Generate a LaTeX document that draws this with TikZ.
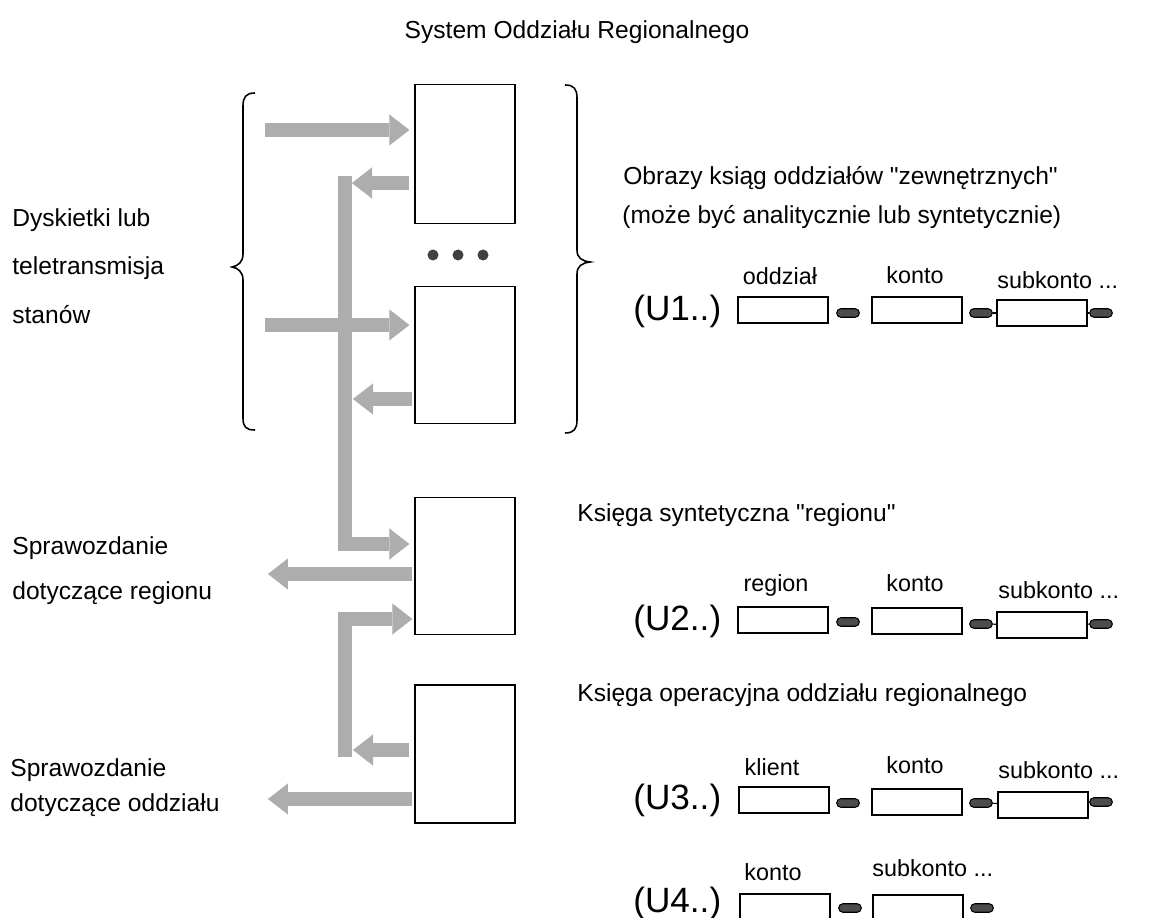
\documentclass[tikz,border=0pt]{standalone}
\usepackage{fontspec}
\setmainfont{Liberation Sans}
\newfontfamily\plainq{Liberation Sans}
\usetikzlibrary{arrows.meta}
\begin{document}
\begin{tikzpicture}[x=0.02cm,y=-0.02cm,
 bigbox/.style={draw,line width=0.8pt,minimum width=2cm,minimum height=2.76cm,inner sep=0pt},
 field/.style={draw,line width=1.3pt,minimum width=1.8cm,minimum height=0.52cm,inner sep=0pt},
 pill/.style={draw,line width=0.6pt,fill=black!70,rounded corners=0.08cm,minimum width=0.45cm,minimum height=0.17cm,inner sep=0pt},
 fat/.style={draw=black!32,line width=0.28cm,line join=miter,-{Triangle[width=0.62cm,length=0.4cm,line width=0.1pt]}},
 txt/.style={font=\fontsize{14}{17}\selectfont,anchor=west,inner sep=0pt},
 lab/.style={font=\fontsize{13.3}{16}\selectfont,inner sep=0pt},
 big/.style={font=\fontsize{20}{24}\selectfont,anchor=west,inner sep=0pt},
 brace/.style={draw,line width=0.9pt},
 dot/.style={circle,fill=black!75,minimum size=0.22cm,inner sep=0pt}]
\useasboundingbox (0,0) rectangle (1149,918);

% title
\node[txt,anchor=center] (title) at (577,32) {System Oddziału Regionalnego};

% big boxes
\node[bigbox,minimum height=2.78cm] (b1) at (465,154) {};
\node[bigbox,minimum height=2.74cm] (b2) at (465,355) {};
\node[bigbox,minimum height=2.74cm] (b3) at (465,566) {};
\node[bigbox,minimum height=2.76cm] (b4) at (465,754) {};
\node[dot] (d1) at (433,255) {};
\node[dot] (d2) at (458,255) {};
\node[dot] (d3) at (483,255) {};

% block arrows
\coordinate (s1) at (265,130);
\coordinate (t2) at (352,183);
\coordinate (v1) at (345,176);
\coordinate (j3) at (0,544);
\coordinate (s3) at (265,325);
\coordinate (t4) at (353,399);
\coordinate (o1) at (268,574);
\coordinate (v2) at (345,757);
\coordinate (j2) at (0,619);
\coordinate (t5) at (353,750);
\coordinate (o2) at (268,799);
\draw[fat,shorten >=0.1cm] (v1) |- (b3.west |- j3);
\draw[fat,shorten >=0.04cm] (v2) |- (b3.west |- j2);
\draw[fat,shorten >=0.1cm] (s1) -- (b1.west |- s1);
\draw[fat,shorten <=0.1cm] (b1.west |- t2) -- (t2);
\draw[fat,shorten >=0.1cm] (s3) -- (b2.west |- s3);
\draw[fat,shorten <=0.04cm] (b2.west |- t4) -- (t4);
\draw[fat,shorten <=0.04cm] (b3.west |- o1) -- (o1);
\draw[fat,shorten <=0.1cm] (b4.west |- t5) -- (t5);
\draw[fat,shorten <=0.04cm] (b4.west |- o2) -- (o2);

% braces
\draw[brace] (255,93) .. controls (246,93) and (243,97) .. (243,106) -- (243,254)
  .. controls (243,262) and (238,266) .. (232,267)
  .. controls (238,268) and (243,272) .. (243,280) -- (243,418)
  .. controls (243,427) and (246,430) .. (255,430);
\draw[brace] (565,85) .. controls (574,85) and (577,89) .. (577,98) -- (577,250)
  .. controls (577,258) and (582,261) .. (590,262)
  .. controls (582,263) and (577,266) .. (577,274) -- (577,420)
  .. controls (577,429) and (574,433) .. (565,433);

% left texts
\node[txt] (l1) at (12,220) {Dyskietki lub};
\node[txt] (l2) at (12,268) {teletransmisja};
\node[txt] (l3) at (12,315) {stanów};
\node[txt] (l4) at (12,548) {Sprawozdanie};
\node[txt] (l5) at (12,593) {dotyczące regionu};
\node[txt] (l6) at (10,770) {Sprawozdanie};
\node[txt] (l7) at (10,805) {dotyczące oddziału};

% right headers
\node[txt] (h1) at (623,178) {Obrazy ksiąg oddziałów {\plainq"}zewnętrznych{\plainq"}};
\node[txt] (h2) at (622,217) {(może być analitycznie lub syntetycznie)};
\node[txt] (h3) at (577,515) {Księga syntetyczna {\plainq"}regionu{\plainq"}};
\node[txt] (h4) at (577,695) {Księga operacyjna oddziału regionalnego};

% row U1
\node[big] (u1) at (633,311) {(U1..)};
\node[field] (f11) at (783,310) {};
\node[pill] (p11) at (848,313) {};
\node[field] (f12) at (917,310) {};
\node[pill] (p12) at (981,313) {};
\node[field] (f13) at (1042,313) {};
\node[pill] (p13) at (1101,313) {};
\draw[line width=0.6pt] (p12) -- (f13) (f13) -- (p13);
\node[lab] (l11) at (780,276) {oddział};
\node[lab] (l12) at (915,275) {konto};
\node[lab,anchor=west] (l13) at (997,280) {subkonto ...};

% row U2
\node[big] (u2) at (633,621) {(U2..)};
\node[field] (f21) at (783,620) {};
\node[pill] (p21) at (848,622) {};
\node[field] (f22) at (917,621) {};
\node[pill] (p22) at (981,624) {};
\node[field] (f23) at (1042,625) {};
\node[pill] (p23) at (1101,624) {};
\draw[line width=0.6pt] (p22) -- (f23) (f23) -- (p23);
\node[lab] (l21) at (776,585) {region};
\node[lab] (l22) at (915,583) {konto};
\node[lab,anchor=west] (l23) at (998,590) {subkonto ...};

% row U3
\node[big] (u3) at (633,800) {(U3..)};
\node[field] (f31) at (784,800) {};
\node[pill] (p31) at (848,803) {};
\node[field] (f32) at (917,802) {};
\node[pill] (p32) at (981,803) {};
\node[field] (f33) at (1043,805) {};
\node[pill] (p33) at (1101,802) {};
\draw[line width=0.6pt] (p32) -- (f33) (f33) -- (p33);
\node[lab] (l31) at (772,767) {klient};
\node[lab] (l32) at (915,765) {konto};
\node[lab,anchor=west] (l33) at (998,770) {subkonto ...};

% row U4
\node[big] (u4) at (633,903) {(U4..)};
\node[field] (f41) at (785,907) {};
\node[pill] (p41) at (850,908) {};
\node[field] (f42) at (918,908) {};
\node[pill] (p42) at (982,908) {};
\node[lab] (l41) at (773,872) {konto};
\node[lab,anchor=west] (l42) at (872,868) {subkonto ...};
\end{tikzpicture}
\end{document}
